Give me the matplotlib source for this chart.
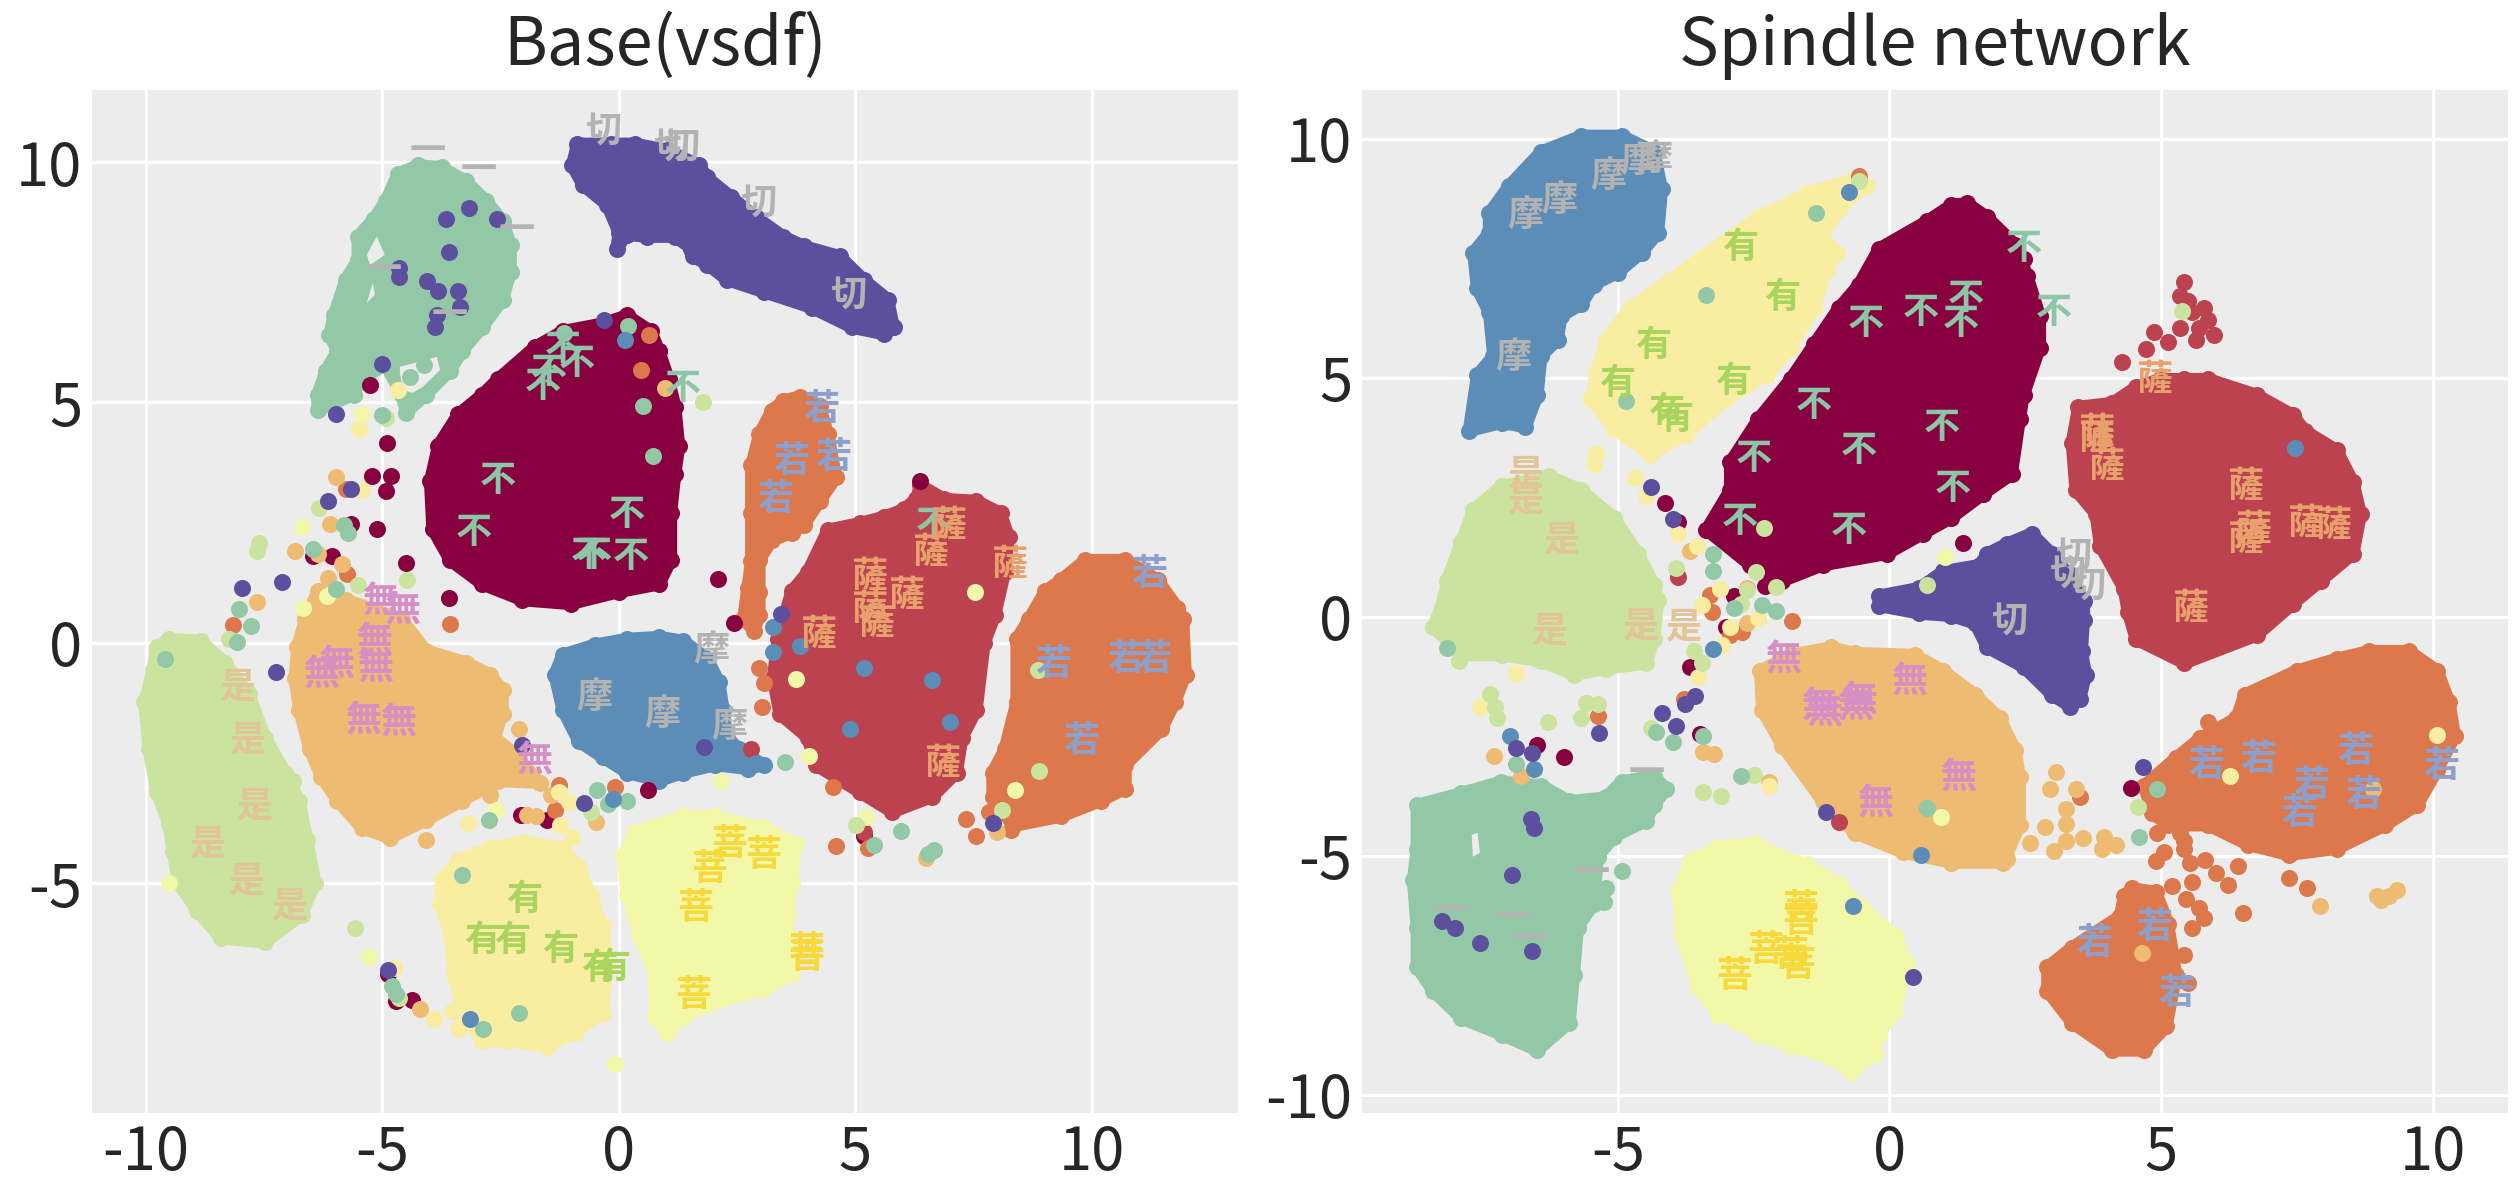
import matplotlib.pyplot as plt
plt.switch_backend('agg')

plt.rcParams['font.family'] = ['Noto Sans CJK JP', 'DejaVu Sans']

# Colours
BURGUNDY = '#88003F'
RED = '#BC4250'
ORANGE = '#DC784C'
SAND = '#EDBB72'
YELLOW = '#F9EDA2'
PALE = '#F3F8A9'
LIME = '#CAE49F'
GREEN = '#92C8A5'
BLUE = '#5B8DB8'
PURPLE = '#5C4F9E'
PANEL = '#ECECEC'

# ---- Base(vsdf): cluster outlines ----
base_purple = [(-0.88, 10.38), (-0.17, 10.38), (0.34, 10.38), (1.02, 10.25), (1.70, 9.93), (1.87, 9.68), (2.38, 9.27),
               (2.89, 8.86), (3.48, 8.45), (3.91, 8.25), (4.67, 8.04), (5.18, 7.55), (5.69, 7.14), (5.81, 6.56),
               (5.61, 6.42), (4.93, 6.56), (4.08, 6.97), (3.06, 7.30), (2.29, 7.55), (1.87, 7.87), (1.56, 8.04),
               (1.53, 8.20), (1.19, 8.45), (0.59, 8.45), (0.17, 8.49), (-0.05, 8.20), (0, 8.53), (-0.25, 9.11),
               (-0.76, 9.52), (-0.99, 9.93)]
base_green = [(-4.25, 9.93), (-3.74, 9.89), (-3.23, 9.60), (-2.80, 9.19), (-2.46, 8.78), (-2.29, 8.28), (-2.29, 7.71),
              (-2.46, 7.13), (-2.89, 6.56), (-3.31, 6.07), (-3.57, 5.66), (-4.08, 5.16), (-4.50, 4.79), (-4.59, 5.16),
              (-4.93, 5.78), (-5.44, 5.49), (-5.61, 5.16), (-6.37, 4.84), (-6.37, 5.16), (-6.20, 5.66), (-5.95, 6.07),
              (-6.12, 6.40), (-6.03, 6.81), (-5.78, 7.55), (-5.52, 7.96), (-5.52, 8.45), (-5.18, 8.82), (-4.93, 9.19),
              (-4.67, 9.76)]
base_burgundy = [(0.17, 6.81), (0.68, 6.48), (0.85, 6.07), (1.05, 5.49), (1.19, 4.91), (1.27, 4.09), (1.19, 3.52),
                 (1.10, 2.70), (1.10, 1.72), (0.85, 1.22), (0, 1.06), (-1.02, 0.81), (-2.04, 0.89), (-2.89, 1.22),
                 (-3.57, 1.72), (-3.94, 2.37), (-3.99, 3.36), (-3.82, 4.10), (-3.40, 4.75), (-2.89, 5.16), (-2.55, 5.49),
                 (-1.78, 6.15), (-1.19, 6.48), (-0.34, 6.64)]
base_orange_top = [(3.82, 5.12), (4.25, 4.92), (4.42, 4.34), (4.59, 3.44), (4.25, 2.95), (3.91, 2.45), (3.65, 2.29),
                   (3.23, 2.13), (2.97, 1.72), (2.97, 1.06), (2.97, 0.57), (2.86, 0.25), (2.63, 0.49), (2.72, 1.14),
                   (2.80, 1.70), (2.80, 2.70), (2.80, 3.69), (2.97, 4.34), (3.23, 4.83), (3.48, 5.04)]
base_red = [(6.37, 3.28), (6.88, 2.99), (7.56, 2.95), (8.07, 2.70), (8.24, 2.21), (8.16, 1.47), (7.95, 0.57), (7.73, 0),
            (7.56, -1.39), (7.26, -1.97), (7.14, -2.70), (6.63, -3.2), (5.78, -3.52), (5.10, -3.11), (4.16, -2.54),
            (3.99, -1.97), (3.40, -1.48), (3.26, -0.74), (3.36, 0.08), (3.65, 1.07), (3.99, 1.47), (4.42, 2.35),
            (5.10, 2.49), (5.61, 2.62), (6.03, 2.78), (6.29, 3.0)]
base_orange_right = [(9.86, 1.72), (10.71, 1.72), (11.39, 1.31), (11.81, 0.73), (11.93, 0.49), (11.98, -0.66),
                     (11.76, -1.23), (11.47, -1.80), (10.71, -2.54), (10.71, -3.03), (10.2, -3.28), (9.35, -3.61),
                     (8.33, -3.81), (7.90, -3.2), (7.90, -2.7), (8.16, -2.21), (8.41, -1.23), (8.41, 0.08), (8.67, 0.49),
                     (9.01, 1.07), (9.35, 1.31)]
base_blue = [(0.85, 0.12), (1.36, 0.04), (1.87, -0.33), (2.12, -0.82), (2.21, -1.39), (2.29, -1.97), (2.55, -2.21),
             (3.06, -2.54), (2.72, -2.62), (2.04, -2.54), (1.36, -2.70), (0.85, -2.87), (0.17, -2.70), (-0.34, -2.38),
             (-0.85, -2.05), (-1.19, -1.39), (-1.36, -0.66), (-1.19, -0.25), (-0.51, -0.04), (0.17, 0.08)]
base_sand = [(-6.37, 1.07), (-5.78, 0.90), (-4.59, 0.49), (-4.08, -0.16), (-3.23, -0.41), (-2.72, -0.66), (-2.46, -0.98),
             (-2.46, -1.48), (-2.63, -1.97), (-2.21, -2.30), (-1.67, -2.91), (-2.55, -2.87), (-3.31, -3.28),
             (-4.08, -3.69), (-4.84, -4.06), (-5.44, -3.85), (-5.95, -3.28), (-6.29, -2.79), (-6.54, -2.21),
             (-6.76, -1.39), (-6.85, -0.74), (-6.80, -0.08), (-6.63, 0.49)]
base_lime = [(-9.52, 0.08), (-8.84, 0.04), (-8.33, -0.41), (-7.82, -1.07), (-7.48, -1.97), (-7.05, -2.70), (-6.76, -3.28),
             (-6.59, -4.10), (-6.42, -5.0), (-6.71, -5.66), (-7.48, -6.23), (-8.41, -6.15), (-8.92, -5.57), (-9.31, -5.0),
             (-9.43, -4.34), (-9.52, -3.77), (-9.77, -3.11), (-9.94, -2.21), (-10.03, -1.23), (-9.86, -0.57),
             (-9.77, -0.08)]
base_yellow = [(-2.04, -4.14), (-1.19, -4.26), (-0.85, -4.67), (-0.59, -5.25), (-0.34, -5.90), (-0.25, -6.72),
               (-0.34, -7.70), (-0.93, -8.11), (-1.53, -8.40), (-2.38, -8.28), (-2.89, -8.28), (-3.31, -7.70),
               (-3.48, -6.89), (-3.57, -6.07), (-3.79, -5.41), (-3.74, -4.92), (-3.40, -4.51), (-2.72, -4.26)]
base_pale = [(1.36, -3.61), (2.04, -3.61), (3.06, -3.85), (3.74, -4.18), (3.65, -5.0), (3.57, -5.66), (3.65, -6.89),
             (3.06, -7.21), (1.87, -7.54), (1.36, -7.79), (1.02, -8.11), (0.76, -7.79), (0.76, -6.89), (0.42, -6.07),
             (0.17, -5.25), (0.08, -4.43), (0.34, -3.93)]

# holes in the green cluster
base_gap_a = [(-5.12, 8.45), (-4.95, 8.07), (-5.26, 7.86), (-5.33, 8.07)]
base_gap_b = [(-5.2, 7.49), (-5.16, 7.24), (-5.33, 7.07)]
base_gap_c = [(-4.63, 5.74), (-3.85, 5.95), (-3.78, 5.68), (-4.14, 5.33), (-4.36, 5.20), (-4.57, 5.26), (-4.63, 5.62)]

# ---- Base(vsdf): loose points ----
base_dots_burgundy = [(-4.91, 4.16), (-5.23, 3.48), (-4.81, 3.48), (-4.93, 3.15), (-5.66, 2.48), (-5.12, 2.37),
                      (-4.50, 1.67), (-6.07, 1.80), (-6.46, 1.80), (-3.59, 0.94), (6.37, 3.37), (2.09, 1.33),
                      (2.43, 0.41), (0.85, 6.08), (-5.27, 5.37), (0.61, -3.06), (-2.07, -3.58), (-1.53, -3.69),
                      (-4.88, -6.89), (-4.72, -7.44), (-4.38, -7.42), (5.18, -4.02)]
base_dots_red = [(2.80, -2.21), (5.18, -3.93)]
base_dots_orange = [(0.63, 6.40), (0.46, 5.67), (-3.57, 0.39), (-5.74, 1.44), (-5.78, 3.19), (-8.16, 0.37), (4.52, -2.99),
                    (2.97, -0.53), (3.06, -0.84), (3.03, -1.33), (-1.27, -2.95), (-1.36, -3.48), (-0.08, -3.0),
                    (4.59, -4.22), (5.27, -4.26), (7.34, -3.66), (7.56, -4.02), (8.29, -3.89), (7.82, -3.52)]
base_dots_sand = [(-5.98, 3.44), (-6.10, 2.48), (-6.85, 1.91), (-6.37, 1.85), (-5.86, 1.63), (-6.15, 1.35), (-7.65, 0.85),
                  (0.97, 5.31), (-2.12, -1.79), (-2.72, -3.16), (-4.08, -4.10), (-1.95, -3.58), (-1.75, -3.61),
                  (-1.44, -3.16), (-0.48, -3.73), (7.99, -3.93), (6.49, -4.47), (-4.20, -7.61)]
base_dots_yellow = [(-5.49, 4.44), (-5.44, 3.17), (-4.67, 5.25), (-3.18, -3.75), (-1.27, -3.11), (-1.24, -3.79),
                    (-0.99, -4.03), (-1.05, -3.32), (-3.91, -7.83), (-3.52, -7.66), (-3.40, -8.03), (-2.89, -8.28),
                    (-4.76, -6.76)]
base_dots_pale = [(-6.71, 2.41), (-6.68, 0.73), (-6.17, 0.98), (-5.44, 4.75), (7.53, 1.06), (4.01, -2.35), (3.74, -0.76),
                  (5.22, -3.62), (8.38, -3.06), (2.16, -2.87), (-2.60, -3.48), (-5.29, -6.53), (-0.08, -8.77),
                  (-9.52, -5.0)]
base_dots_lime = [(1.77, 5.0), (-7.60, 2.08), (-7.65, 1.91), (-6.34, 2.81), (-4.93, 4.67), (-4.47, 1.30), (-5.52, 1.20),
                  (-8.24, 0.08), (8.89, -2.66), (8.11, -3.48), (5.01, -3.79), (-5.57, -5.94), (-6.88, -2.87),
                  (8.87, -0.56), (-0.59, -3.52), (-4.64, -7.38), (6.54, -4.39)]
base_dots_green = [(-1.16, 6.44), (0.20, 6.60), (0.51, 4.92), (0.73, 3.89), (-5.01, 4.74), (-5.81, 2.46), (-5.73, 2.29),
                   (-6.47, 1.96), (-5.98, 1.13), (-8.04, 0.70), (-7.78, 0.34), (-8.07, 0.02), (-9.60, -0.33),
                   (-4.42, 5.53), (-4.13, 5.78), (3.52, -2.48), (-2.75, -3.69), (-0.46, -3.07), (-0.22, -3.36),
                   (0.17, -3.30), (5.97, -3.91), (5.40, -4.20), (6.66, -4.30), (6.54, -4.40), (-3.31, -4.82),
                   (-2.12, -7.70), (-2.87, -8.03), (-4.79, -7.13), (-4.72, -7.30)]
base_dots_blue = [(0.12, 6.30), (3.26, 0.33), (3.26, -0.20), (3.82, -0.06), (5.18, -0.53), (6.63, -0.78), (7.0, -1.64),
                  (4.89, -1.79), (2.89, -2.5), (-0.12, -3.24), (-3.14, -7.83)]
base_dots_purple = [(-3.16, 9.04), (-3.65, 8.82), (-2.57, 8.82), (-3.60, 8.14), (-4.64, 7.79), (-4.64, 7.60),
                    (-4.06, 7.53), (-3.82, 7.32), (-3.40, 7.32), (-3.36, 6.99), (-3.84, 6.81), (-3.89, 6.56),
                    (-5.01, 5.80), (-5.98, 4.75), (-0.32, 6.72), (-5.66, 3.19), (-6.14, 2.95), (-7.12, 1.27),
                    (-7.97, 1.14), (3.42, 0.61), (-7.24, -0.60), (-2.04, -2.13), (1.80, -2.17), (-0.73, -3.34),
                    (-4.88, -6.80), (7.92, -3.75)]

# ---- Base(vsdf): characters ----
base_bu = [(-1.19, 6.11), (-0.88, 5.82), (-1.48, 5.62), (-1.61, 5.33), (1.36, 5.29), (-2.55, 3.37), (-3.06, 2.29),
           (0.17, 2.66), (-0.63, 1.81), (-0.54, 1.81), (0.25, 1.80), (6.65, 2.45)]
base_qie = [(-0.34, 10.62), (1.10, 10.30), (1.31, 10.30), (2.94, 9.12), (4.84, 7.22)]
base_yi = [(-4.04, 10.23), (-2.97, 9.83), (-2.16, 8.57), (-4.98, 7.75), (-3.57, 6.81)]
base_ruo = [(4.28, 4.86), (4.54, 3.85), (3.65, 3.77), (3.31, 2.99), (11.22, 1.43), (9.18, -0.45), (10.71, -0.35),
            (11.30, -0.35), (9.77, -2.05)]
base_sa = [(6.97, 2.45), (6.59, 1.88), (8.24, 1.63), (5.30, 1.39), (6.08, 0.99), (5.30, 0.69), (5.44, 0.41), (4.21, 0.18),
           (6.83, -2.50)]
base_wu = [(-5.05, 0.86), (-4.59, 0.67), (-5.18, 0.04), (-5.15, -0.53), (-5.98, -0.45), (-6.29, -0.66), (-5.40, -1.60),
           (-4.67, -1.66), (-1.80, -2.44)]
base_mo = [(1.95, -0.15), (-0.51, -1.13), (0.93, -1.48), (2.33, -1.74)]
base_shi = [(-8.07, -0.92), (-7.85, -2.01), (-7.72, -3.40), (-8.70, -4.18), (-7.87, -4.96), (-6.97, -5.48)]
base_you = [(-2.0, -5.33), (-2.89, -6.20), (-2.26, -6.19), (-1.24, -6.38), (-0.42, -6.78), (-0.14, -6.76)]
base_pu = [(2.33, -4.20), (3.06, -4.43), (1.90, -4.71), (1.61, -5.52), (3.96, -6.43), (3.96, -6.54), (1.58, -7.34)]

# ---- Spindle network: cluster outlines ----
spin_blue = [(-5.67, 10.06), (-4.93, 10.06), (-4.33, 9.73), (-4.19, 8.94), (-4.26, 8.03), (-4.56, 7.62), (-5.0, 7.20),
             (-5.44, 6.95), (-5.67, 6.54), (-6.04, 6.29), (-6.11, 5.79), (-6.41, 5.46), (-6.48, 4.64), (-6.70, 3.97),
             (-7.14, 4.06), (-7.74, 3.89), (-7.59, 5.05), (-7.29, 5.46), (-7.37, 6.37), (-7.59, 6.87), (-7.66, 7.62),
             (-7.37, 8.03), (-7.37, 8.44), (-7.0, 9.02), (-6.41, 9.73)]
spin_yellow = [(-0.56, 9.19), (-0.41, 9.02), (-0.93, 8.53), (-1.23, 7.95), (-0.96, 7.62), (-1.15, 7.28), (-1.38, 6.46),
               (-1.82, 5.63), (-2.26, 5.05), (-3.0, 4.55), (-3.74, 3.81), (-4.41, 3.39), (-5.07, 3.93), (-5.49, 4.55),
               (-5.41, 5.05), (-5.22, 5.79), (-4.78, 6.46), (-4.04, 7.04), (-3.45, 7.53), (-2.41, 8.36), (-1.52, 8.86)]
spin_burgundy = [(1.43, 8.65), (1.80, 8.36), (2.32, 7.78), (2.54, 7.12), (2.77, 6.29), (2.77, 5.63), (2.47, 4.64),
                 (2.40, 4.14), (2.25, 2.98), (1.73, 2.57), (1.14, 2.07), (0.62, 1.74), (-0.04, 1.32), (-1.23, 1.08),
                 (-1.97, 0.75), (-2.56, 1.08), (-3.37, 1.82), (-2.93, 2.65), (-2.93, 3.23), (-2.41, 4.14), (-1.82, 4.97),
                 (-1.38, 5.71), (-0.93, 6.46), (-0.56, 6.95), (-0.19, 7.70), (0.70, 8.28), (1.14, 8.61)]
spin_red = [(5.43, 4.97), (5.87, 4.97), (6.76, 4.64), (7.43, 4.22), (7.65, 3.89), (8.24, 3.48), (8.54, 2.81), (8.68, 2.15),
            (8.54, 1.32), (7.94, 0.75), (7.43, 0.27), (6.76, -0.39), (5.43, -0.97), (4.54, -0.47), (4.39, 0.11),
            (4.32, 0.58), (3.88, 1.49), (3.80, 2.15), (3.43, 2.65), (3.36, 3.64), (3.48, 4.39), (4.10, 4.47),
            (4.54, 4.80), (4.99, 4.97)]
spin_purple = [(2.62, 1.74), (2.99, 1.32), (3.28, 0.91), (3.58, 0.33), (3.58, -0.06), (3.54, -0.72), (3.62, -1.21),
               (3.51, -1.71), (3.33, -1.88), (2.99, -1.63), (2.47, -1.05), (1.80, -0.64), (1.58, -0.14), (1.14, 0.02),
               (0.55, 0.07), (-0.19, 0.23), (-0.19, 0.44), (0.55, 0.60), (0.99, 0.95), (1.66, 1.08), (1.80, 1.32),
               (2.17, 1.53)]
spin_lime = [(-6.26, 2.94), (-5.67, 2.65), (-5.07, 2.07), (-4.63, 1.32), (-4.33, 0.66), (-4.26, 0.36), (-4.33, -0.47),
             (-4.48, -0.97), (-5.22, -1.09), (-5.81, -1.21), (-6.41, -0.93), (-7.14, -0.80), (-7.88, -0.80),
             (-8.40, -0.22), (-8.18, 0.44), (-8.15, 0.75), (-7.88, 1.57), (-7.66, 2.24), (-7.14, 2.73)]
spin_sand = [(-1.08, -0.64), (-0.64, -0.76), (0.47, -0.80), (0.99, -1.13), (1.58, -1.63), (2.03, -2.12), (2.32, -2.79),
             (2.40, -3.36), (2.40, -4.36), (2.10, -5.14), (1.14, -5.14), (0.25, -4.93), (-0.64, -4.52), (-1.23, -3.86),
             (-1.97, -2.70), (-2.34, -1.96), (-2.38, -1.13), (-1.82, -0.80)]
spin_orange_main = [(8.83, -0.72), (9.57, -0.72), (10.09, -1.13), (10.31, -1.79), (10.41, -2.50), (10.09, -3.20),
                    (9.72, -3.94), (9.13, -4.36), (8.24, -4.85), (7.35, -4.98), (6.61, -4.77), (5.87, -4.36),
                    (5.13, -4.36), (4.84, -4.11), (4.69, -3.53), (5.28, -2.95), (5.72, -2.54), (6.39, -2.12),
                    (6.54, -1.63), (7.50, -1.13), (8.24, -0.88)]
spin_orange_low = [(4.47, -5.68), (4.91, -5.76), (5.13, -6.42), (5.28, -7.50), (5.10, -8.57), (4.69, -9.07), (4.10, -9.07),
                   (3.36, -8.49), (2.91, -7.83), (2.91, -7.33), (3.36, -6.92), (4.25, -6.26), (4.32, -5.84)]
spin_green = [(-7.15, -3.45), (-6.41, -3.53), (-5.89, -3.86), (-5.22, -3.78), (-4.93, -3.45), (-4.33, -3.32),
              (-4.11, -3.61), (-4.33, -3.94), (-4.48, -4.27), (-5.07, -4.60), (-5.37, -5.02), (-5.44, -6.01),
              (-5.74, -6.50), (-5.81, -7.50), (-5.89, -8.49), (-6.48, -9.07), (-7.14, -8.74), (-7.88, -8.40),
              (-8.40, -7.83), (-8.70, -7.33), (-8.70, -6.50), (-8.77, -5.51), (-8.70, -4.85), (-8.70, -3.94),
              (-7.88, -3.69)]
spin_pale = [(-2.49, -4.73), (-1.97, -5.02), (-1.52, -5.18), (-0.93, -5.60), (-0.49, -6.09), (0.10, -6.67), (0.33, -7.25),
             (0.10, -8.24), (-0.19, -8.74), (-0.27, -9.15), (-0.71, -9.52), (-1.08, -9.23), (-1.82, -8.98), (-2.41, -8.74),
             (-3.15, -8.32), (-3.52, -7.74), (-3.82, -6.67), (-3.89, -5.76), (-3.67, -5.10), (-3.15, -4.81)]

# hole in the green cluster
spin_gap_a = [(-7.69, -4.56), (-7.58, -4.52), (-7.54, -4.94), (-7.67, -5.02)]

# ---- Spindle network: loose points ----
spin_dots_burgundy = [(-4.13, 2.38), (-3.89, 1.99), (1.36, 1.55), (2.47, 7.49), (1.73, 2.57), (-3.67, -1.05),
                      (-3.48, -2.45), (-6.0, -2.93), (-6.49, -2.69), (4.44, -3.59), (-2.29, 0.64), (-2.86, 0.44),
                      (-3.0, -0.22)]
spin_dots_red = [(5.43, 7.0), (5.36, 6.71), (5.80, 6.46), (5.87, 6.21), (5.36, 6.04), (4.87, 5.96), (5.13, 5.75),
                 (5.65, 5.79), (5.98, 5.89), (4.73, 5.61), (4.28, 5.34), (5.58, 6.37), (5.50, 6.60), (5.70, 6.05),
                 (-0.93, -4.29), (-3.89, 0.83)]
spin_dots_orange = [(-0.56, 9.23), (-3.30, 0.46), (-3.27, 0.11), (-2.71, -0.31), (-2.93, -0.39), (-1.79, -0.08),
                    (-5.37, -2.08), (-3.79, -1.71), (3.51, -3.78), (5.87, -2.21), (5.43, -4.85), (5.43, -4.69),
                    (4.93, -4.52), (5.36, -4.52), (4.91, -5.10), (5.06, -4.93), (5.53, -5.14), (5.82, -5.08),
                    (6.01, -5.35), (6.41, -5.21), (5.58, -5.55), (6.24, -5.62), (5.21, -5.64), (5.46, -5.91),
                    (5.70, -6.09), (5.80, -6.30), (5.58, -6.52), (6.51, -6.20), (5.43, -7.08), (7.35, -5.47),
                    (7.69, -5.68), (5.50, -7.66)]
spin_dots_sand = [(-3.67, 1.37), (-2.63, -0.14), (-2.63, 0.60), (-7.28, -2.91), (-6.79, -3.32), (-3.44, -2.83),
                  (-3.22, -2.87), (-2.22, -3.45), (3.06, -3.24), (2.96, -3.61), (3.43, -3.61), (3.25, -4.02),
                  (2.86, -4.40), (3.25, -4.34), (2.59, -4.73), (3.57, -4.63), (3.25, -4.68), (3.03, -4.89),
                  (3.95, -4.60), (4.17, -4.77), (3.92, -4.85), (2.17, -5.06), (4.66, -7.04), (8.91, -3.61),
                  (7.93, -6.05), (9.35, -5.72), (9.20, -5.84), (9.05, -5.93), (8.98, -5.84)]
spin_dots_yellow = [(-5.40, 3.42), (-5.44, 3.19), (-4.69, 2.90), (-4.48, 2.52), (-3.89, 1.74), (-3.55, 1.49), (-3.12, 0.58),
                    (-3.45, 0.25), (-2.41, -0.02), (-2.93, -0.22), (-3.08, -0.60), (-3.52, -1.26), (-6.88, -1.17),
                    (-7.54, -1.89), (6.27, -3.34), (10.09, -2.47), (-2.22, -3.53)]
spin_dots_pale = [(1.02, 1.26), (0.95, -4.19)]
spin_dots_lime = [(-0.56, 9.11), (5.38, 6.40), (-2.31, 1.85), (-2.46, 0.94), (-2.09, 0.62), (-3.92, 1.03), (0.70, 0.66),
                  (-2.63, 0.56), (-2.73, 0.27), (-7.93, -0.93), (-7.36, -1.61), (-7.26, -1.88), (-7.22, -2.12),
                  (-5.59, -1.81), (-5.37, -1.83), (-5.67, -2.12), (-6.29, -2.21), (-4.38, -2.33), (-3.43, -3.67),
                  (-3.10, -3.75), (-2.49, -3.31), (4.57, -3.98), (-3.6, -0.72), (-3.45, -0.97)]
spin_dots_green = [(-1.35, 8.44), (-3.37, 6.73), (-4.85, 4.51), (-3.25, 1.32), (-3.25, 0.95), (-2.34, 0.25), (-2.86, 0.19),
                   (-2.09, 0.12), (-8.15, -0.65), (-4.30, -2.41), (-3.99, -2.62), (-3.44, -2.50), (-6.88, -3.07),
                   (-2.74, -3.34), (0.70, -4.0), (-4.93, -5.32), (4.93, -3.61), (4.59, -4.60), (-5.22, -5.68),
                   (-5.25, -5.97)]
spin_dots_blue = [(-0.74, 8.88), (7.46, 3.54), (-3.25, -0.68), (-6.98, -2.50), (-6.55, -3.18), (0.58, -4.99), (-0.67, -6.05)]
spin_dots_purple = [(-4.39, 2.72), (-3.98, 2.05), (-3.58, -1.65), (-3.76, -1.82), (-4.19, -2.02), (-3.92, -2.29),
                    (-5.34, -2.44), (-6.88, -2.74), (-6.58, -2.84), (-6.60, -4.23), (-6.55, -4.42), (-6.94, -5.40),
                    (-8.24, -6.36), (-7.99, -6.52), (-7.53, -6.83), (-6.58, -7.0), (-1.17, -4.08), (0.44, -7.54),
                    (4.67, -3.14)]

# ---- Spindle network: characters ----
spin_mo = [(-4.33, 9.56), (-4.63, 9.52), (-5.18, 9.21), (-6.07, 8.72), (-6.70, 8.39), (-6.92, 5.42)]
spin_you = [(-2.75, 7.72), (-1.97, 6.68), (-4.35, 5.67), (-5.01, 4.88), (-2.88, 4.93), (-4.11, 4.30), (-3.94, 4.14)]
spin_bu = [(2.47, 7.70), (1.41, 6.66), (0.58, 6.37), (1.32, 6.13), (-0.43, 6.14), (3.03, 6.36), (-1.39, 4.41), (0.96, 3.96),
           (-0.56, 3.48), (-2.50, 3.31), (1.17, 2.69), (-2.75, 1.99), (-0.74, 1.80)]
spin_sa = [(4.88, 4.97), (3.80, 3.85), (3.80, 3.73), (3.99, 3.15), (6.54, 2.73), (6.69, 1.82), (6.54, 1.61), (7.65, 1.95),
           (8.17, 1.90), (5.53, 0.17)]
spin_qie = [(3.39, 1.24), (3.28, 0.87), (3.65, 0.62), (2.20, -0.10)]
spin_shi = [(-6.70, 2.98), (-6.70, 2.44), (-6.04, 1.60), (-6.26, -0.29), (-4.59, -0.18), (-3.79, -0.21)]
spin_wu = [(-1.95, -0.88), (-1.30, -1.88), (-0.64, -1.88), (-1.20, -2.0), (0.36, -1.34), (-0.56, -1.75), (1.27, -3.35),
           (-0.27, -3.90)]
spin_yi = [(-4.47, -3.27), (-5.49, -5.36), (-8.07, -6.16), (-6.92, -6.31), (-6.63, -6.76)]
spin_ruo = [(5.83, -3.12), (6.80, -2.98), (8.58, -2.81), (10.16, -3.14), (7.77, -3.53), (8.73, -3.74), (7.54, -4.11),
            (4.88, -6.50), (3.77, -6.83), (5.28, -7.88)]
spin_pu = [(-1.64, -6.13), (-1.64, -6.38), (-2.29, -6.98), (-1.82, -7.08), (-1.70, -7.29), (-2.86, -7.52)]

tick_vals = [-10, -5, 0, 5, 10]
DOT = 150


def blob(ax, pts, col):
    # filled cluster; the thick round edge stands in for the marker radius
    xs = [p[0] for p in pts]
    ys = [p[1] for p in pts]
    ax.fill(xs, ys, facecolor=col, edgecolor=col, lw=9, joinstyle='round', zorder=2)
    ax.scatter(xs, ys, s=DOT, c=col, lw=0, zorder=2)


def gap(ax, pts):
    ax.fill([p[0] for p in pts], [p[1] for p in pts], color=PANEL, lw=0, zorder=2.5)


def dots(ax, pts, col):
    ax.scatter([p[0] for p in pts], [p[1] for p in pts], s=DOT, c=col, lw=0, zorder=3)


def chars(ax, pts, ch, col):
    for x, y in pts:
        ax.text(x, y, ch, color=col, fontsize=26, fontweight='bold', ha='center', va='center', zorder=4)


def setup(ax, title, xticks, yticks, xlim, ylim):
    ax.set_facecolor(PANEL)
    ax.set_xlim(xlim)
    ax.set_ylim(ylim)
    ax.set_xticks(xticks)
    ax.set_yticks(yticks)
    ax.set_xticklabels([str(t) for t in xticks])
    ax.set_yticklabels([str(t) for t in yticks])
    ax.grid(True, color='white', lw=2.3)
    ax.set_axisbelow(True)
    ax.tick_params(length=0, labelsize=43, labelcolor='#262626', pad=7)
    for s in ax.spines.values():
        s.set_visible(False)
    ax.set_title(title, fontsize=48, color='#262626', pad=18)


W, H = 2520.0, 1200.0
fig = plt.figure(figsize=(25.2, 12), dpi=100)
ax1 = fig.add_axes([92 / W, 1 - 1113 / H, (1238 - 92) / W, (1113 - 90) / H])
ax2 = fig.add_axes([1362 / W, 1 - 1113 / H, (2508 - 1362) / W, (1113 - 90) / H])

setup(ax1, 'Base(vsdf)', tick_vals, [-5, 0, 5, 10], (-11.14, 13.09), (-9.78, 11.5))
setup(ax2, 'Spindle network', [-5, 0, 5, 10], tick_vals, (-9.71, 11.39), (-10.38, 11.02))

# left panel
blob(ax1, base_purple, PURPLE)
blob(ax1, base_green, GREEN)
blob(ax1, base_burgundy, BURGUNDY)
blob(ax1, base_orange_top, ORANGE)
blob(ax1, base_red, RED)
blob(ax1, base_orange_right, ORANGE)
blob(ax1, base_blue, BLUE)
blob(ax1, base_sand, SAND)
blob(ax1, base_lime, LIME)
blob(ax1, base_yellow, YELLOW)
blob(ax1, base_pale, PALE)
gap(ax1, base_gap_a)
gap(ax1, base_gap_b)
gap(ax1, base_gap_c)
dots(ax1, base_dots_burgundy, BURGUNDY)
dots(ax1, base_dots_red, RED)
dots(ax1, base_dots_orange, ORANGE)
dots(ax1, base_dots_sand, SAND)
dots(ax1, base_dots_yellow, YELLOW)
dots(ax1, base_dots_pale, PALE)
dots(ax1, base_dots_lime, LIME)
dots(ax1, base_dots_green, GREEN)
dots(ax1, base_dots_blue, BLUE)
dots(ax1, base_dots_purple, PURPLE)
chars(ax1, base_bu, '不', '#8CC6A6')
chars(ax1, base_qie, '切', '#B3B3B3')
chars(ax1, base_yi, '一', '#B3B3B3')
chars(ax1, base_ruo, '若', '#8DA0CB')
chars(ax1, base_sa, '薩', '#E8A06C')
chars(ax1, base_wu, '無', '#D48FC4')
chars(ax1, base_mo, '摩', '#B3B3B3')
chars(ax1, base_shi, '是', '#E1C497')
chars(ax1, base_you, '有', '#A9D45D')
chars(ax1, base_pu, '菩', '#F8D93C')

# right panel
blob(ax2, spin_blue, BLUE)
blob(ax2, spin_yellow, YELLOW)
blob(ax2, spin_burgundy, BURGUNDY)
blob(ax2, spin_red, RED)
blob(ax2, spin_purple, PURPLE)
blob(ax2, spin_lime, LIME)
blob(ax2, spin_sand, SAND)
blob(ax2, spin_orange_main, ORANGE)
blob(ax2, spin_orange_low, ORANGE)
blob(ax2, spin_green, GREEN)
blob(ax2, spin_pale, PALE)
gap(ax2, spin_gap_a)
dots(ax2, spin_dots_burgundy, BURGUNDY)
dots(ax2, spin_dots_red, RED)
dots(ax2, spin_dots_orange, ORANGE)
dots(ax2, spin_dots_sand, SAND)
dots(ax2, spin_dots_yellow, YELLOW)
dots(ax2, spin_dots_pale, PALE)
dots(ax2, spin_dots_lime, LIME)
dots(ax2, spin_dots_green, GREEN)
dots(ax2, spin_dots_blue, BLUE)
dots(ax2, spin_dots_purple, PURPLE)
chars(ax2, spin_mo, '摩', '#B3B3B3')
chars(ax2, spin_you, '有', '#A9D45D')
chars(ax2, spin_bu, '不', '#8CC6A6')
chars(ax2, spin_sa, '薩', '#E8A06C')
chars(ax2, spin_qie, '切', '#B3B3B3')
chars(ax2, spin_shi, '是', '#E1C497')
chars(ax2, spin_wu, '無', '#D48FC4')
chars(ax2, spin_yi, '一', '#B3B3B3')
chars(ax2, spin_ruo, '若', '#8DA0CB')
chars(ax2, spin_pu, '菩', '#F8D93C')

fig.savefig('out.png', dpi=100)
